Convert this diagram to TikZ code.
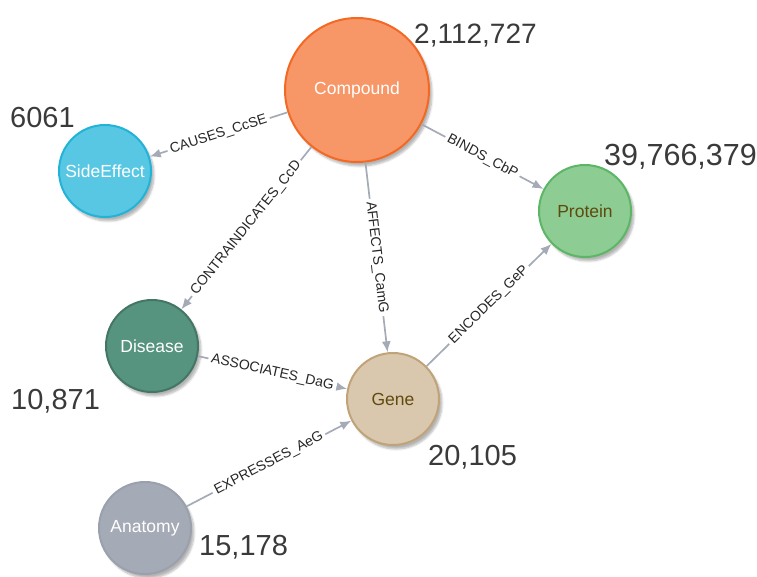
\documentclass[tikz,border=0pt]{standalone}
\usepackage{fontspec}
\setmainfont{Liberation Sans}
\usetikzlibrary{arrows.meta,shadows.blur}
\definecolor{edgecol}{HTML}{A5ABB6}
\definecolor{numcol}{HTML}{3A3A3A}
\definecolor{darktext}{HTML}{604A0E}
\definecolor{cpdfill}{HTML}{F79767}\definecolor{cpddraw}{HTML}{F36924}
\definecolor{sefill}{HTML}{57C7E3}\definecolor{sedraw}{HTML}{23B3D7}
\definecolor{prfill}{HTML}{8DCC93}\definecolor{prdraw}{HTML}{5DB665}
\definecolor{dsfill}{HTML}{569480}\definecolor{dsdraw}{HTML}{447666}
\definecolor{gnfill}{HTML}{D9C8AE}\definecolor{gndraw}{HTML}{C0A378}
\definecolor{anfill}{HTML}{A5ABB6}\definecolor{andraw}{HTML}{9AA1AC}
\tikzset{
  entity/.style={circle, inner sep=0pt, minimum size=92pt, line width=2pt,
    font=\fontsize{17.5}{20}\selectfont,
    blur shadow={shadow xshift=3pt, shadow yshift=-4pt, shadow blur steps=6, shadow opacity=30}},
  rel/.style={draw=edgecol, line width=1.7pt, -{Latex[length=11pt,width=9pt]}},
  rellabel/.style={fill=white, inner sep=3pt, sloped, font=\fontsize{14}{16}\selectfont, text=black!85},
  count/.style={text=numcol, font=\fontsize{29}{32}\selectfont, inner sep=0pt}
}
\begin{document}
\begin{tikzpicture}[x=1pt,y=-1pt]
\path[use as bounding box] (0,0) rectangle (757,576);
% nodes
\node[entity, minimum size=144pt, fill=cpdfill, draw=cpddraw, text=white] (compound) at (357,90) {Compound};
\node[entity, fill=sefill, draw=sedraw, text=white] (side) at (105,171) {SideEffect};
\node[entity, fill=prfill, draw=prdraw, text=darktext] (protein) at (585,211) {Protein};
\node[entity, fill=dsfill, draw=dsdraw, text=white] (disease) at (152,346) {Disease};
\node[entity, fill=gnfill, draw=gndraw, text=darktext] (gene) at (393,399) {Gene};
\node[entity, fill=anfill, draw=andraw, text=white] (anatomy) at (145,528) {Anatomy};
% relationships
\draw[rel] (compound) -- node[rellabel] {CAUSES\_CcSE} (side);
\draw[rel] (compound) -- node[rellabel] {BINDS\_CbP} (protein);
\draw[rel] (compound) -- node[rellabel] {CONTRAINDICATES\_CcD} (disease);
\draw[rel] (compound) -- node[rellabel] {AFFECTS\_CamG} (gene);
\draw[rel] (gene) -- node[rellabel] {ENCODES\_GeP} (protein);
\draw[rel] (disease) -- node[rellabel] {ASSOCIATES\_DaG} (gene);
\draw[rel] (anatomy) -- node[rellabel] {EXPRESSES\_AeG} (gene);
% counts
\node[count, anchor=west, font=\fontsize{28}{31}\selectfont] (ncompound) at (414,36) {2,112,727};
\node[count, anchor=west] (nside) at (10,118) {6061};
\node[count, anchor=west, font=\fontsize{30.5}{33}\selectfont] (nprotein) at (604,157) {39,766,379};
\node[count, anchor=west] (ndisease) at (11,401) {10,871};
\node[count, anchor=west] (ngene) at (428,457) {20,105};
\node[count, anchor=west] (nanatomy) at (199,547) {15,178};
\end{tikzpicture}
\end{document}
